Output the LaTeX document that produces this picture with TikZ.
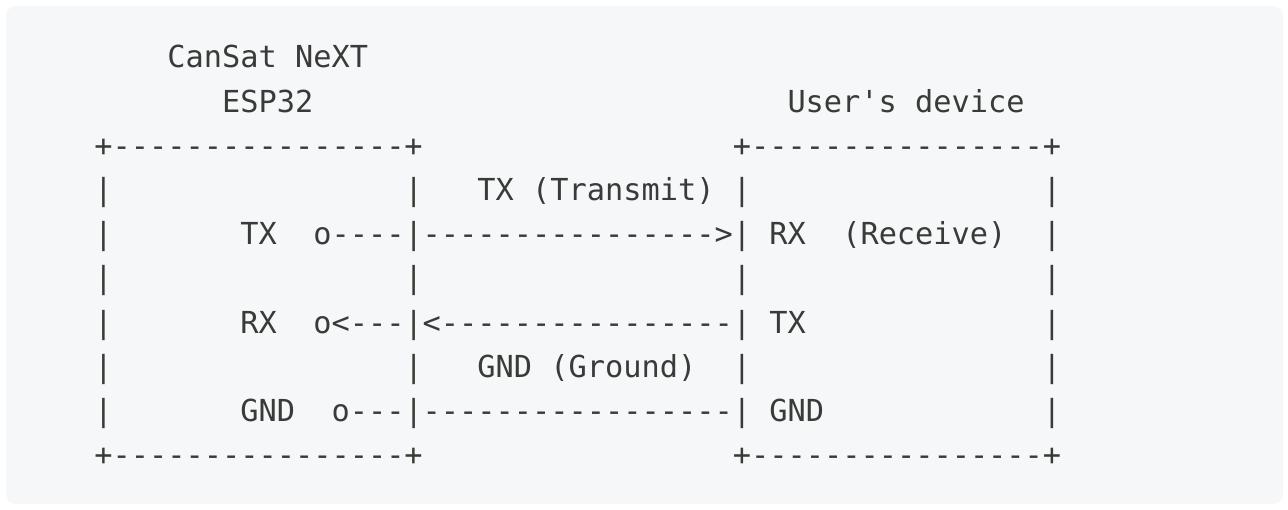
\documentclass[tikz,border=0pt]{standalone}
\usepackage{fontspec}
\setmonofont{DejaVu Sans Mono}
\usetikzlibrary{positioning}

\definecolor{codebg}{HTML}{F6F7F9}
\definecolor{codefg}{HTML}{3A3B38}

% blank of n character cells
\newcommand\sk[1]{\hskip#1\fontcharwd\font`\x\relax}

\begin{document}
\begin{tikzpicture}[x=1pt, y=-1pt]
    \tikzstyle{row} = [inner sep=0pt, anchor=base west, text=codefg, font=\ttfamily\fontsize{30.3}{44.2}\selectfont\frenchspacing]

    \useasboundingbox (0,0) rectangle (1288,510);
    \fill [codebg, rounded corners=10pt] (6,6) rectangle (1283,504);

    % titles
    \node [row] (cansat) at (167.2, 68) {CanSat NeXT};
    \node [row] (esp) at (221.9, 112.2) {ESP32};
    \node [row] (user) at (787.3, 112.2) {User's device};

    % the two boxes and the wires, one line each
    \node [row] (r3) at (94.2, 156.4) {+----------------+\sk{17}+----------------+};
    \node [row] (r4) at (94.2, 200.6) {|\sk{16}|\sk{3}TX (Transmit) |\sk{16}|};
    \node [row] (r5) at (94.2, 244.8) {|\sk{7}TX\sk{2}o----|---------------->|\sk{1}RX\sk{2}(Receive)\sk{2}|};
    \node [row] (r6) at (94.2, 289.0) {|\sk{16}|\sk{17}|\sk{16}|};
    \node [row] (r7) at (94.2, 333.2) {|\sk{7}RX\sk{2}o<---|<----------------|\sk{1}TX\sk{13}|};
    \node [row] (r8) at (94.2, 377.4) {|\sk{16}|\sk{3}GND (Ground)\sk{2}|\sk{16}|};
    \node [row] (r9) at (94.2, 421.6) {|\sk{7}GND\sk{2}o---|-----------------|\sk{1}GND\sk{12}|};
    \node [row] (r10) at (94.2, 465.8) {+----------------+\sk{17}+----------------+};
\end{tikzpicture}
\end{document}
